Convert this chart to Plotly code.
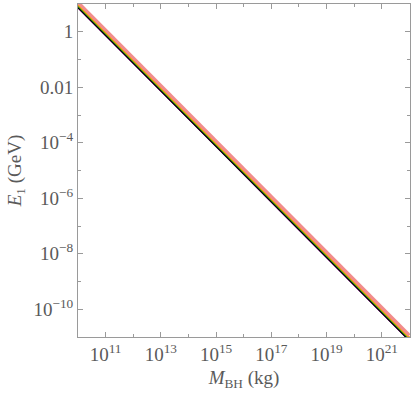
import plotly.graph_objects as go

# Black-hole mass endpoints (kg)
mass_kg = [1e10, 1e22]
# E1 (GeV) read at the two ends of each nearly-overlapping line
e1_magenta = [7.0, 7.0e-12]
e1_blue = [7.7, 7.7e-12]
e1_black = [7.4, 7.4e-12]
e1_green = [8.5, 8.5e-12]
e1_orange = [9.5, 9.5e-12]
e1_pink = [11.5, 11.5e-12]

series = [
    ("magenta", e1_magenta, "#E000E0", 1.0),
    ("blue", e1_blue, "#1f3fd0", 1.0),
    ("black", e1_black, "#000000", 1.5),
    ("green", e1_green, "#1aa01a", 1.6),
    ("orange", e1_orange, "#F5A000", 2.0),
    ("pink", e1_pink, "#F28C8C", 3.2),
]

y_major = [1, 1e-2, 1e-4, 1e-6, 1e-8, 1e-10]
y_major_text = ["1", "0.01", "10<sup>−4</sup>", "10<sup>−6</sup>", "10<sup>−8</sup>", "10<sup>−10</sup>"]
y_minor = [10, 1e-1, 1e-3, 1e-5, 1e-7, 1e-9, 1e-11]
x_major = [1e11, 1e13, 1e15, 1e17, 1e19, 1e21]
x_major_text = ["10<sup>11</sup>", "10<sup>13</sup>", "10<sup>15</sup>", "10<sup>17</sup>", "10<sup>19</sup>", "10<sup>21</sup>"]
x_minor = [1e10, 1e12, 1e14, 1e16, 1e18, 1e20, 1e22]

FONT = "Liberation Serif"
fig = go.Figure()
for name, vals, col, w in series:
    fig.add_trace(go.Scatter(x=mass_kg, y=vals, mode="lines", name=name,
                             line=dict(color=col, width=w), showlegend=False))

axis_common = dict(
    type="log", showgrid=False, zeroline=False, showline=True, mirror="ticks",
    linecolor="#9a9a9a", linewidth=1, ticks="inside", ticklen=5, tickcolor="#9a9a9a",
    tickfont=dict(family=FONT, size=19, color="#5a5a5a"),
)

fig.update_xaxes(
    **axis_common, range=[10, 22.02], tickmode="array", tickvals=x_major, ticktext=x_major_text,
    minor=dict(tickvals=x_minor, ticks="inside", ticklen=3, tickcolor="#9a9a9a", showgrid=False),
    title=dict(text="<i>M</i><sub>BH</sub> (kg)", font=dict(family=FONT, size=19, color="#5a5a5a"), standoff=6),
)
fig.update_yaxes(
    **axis_common, range=[-11, 1.0], tickmode="array", tickvals=y_major, ticktext=y_major_text,
    minor=dict(tickvals=y_minor, ticks="inside", ticklen=3, tickcolor="#9a9a9a", showgrid=False),
    title=dict(text="<i>E</i><sub>1</sub> (GeV)", font=dict(family=FONT, size=19, color="#5a5a5a"), standoff=6),
)

fig.update_layout(
    width=415, height=395, margin=dict(l=78, r=5, t=4, b=58, autoexpand=False),
    plot_bgcolor="white", paper_bgcolor="white",
)

fig.write_html("out.html", config={"displayModeBar": False},
               post_script="document.body.style.margin='0';")
